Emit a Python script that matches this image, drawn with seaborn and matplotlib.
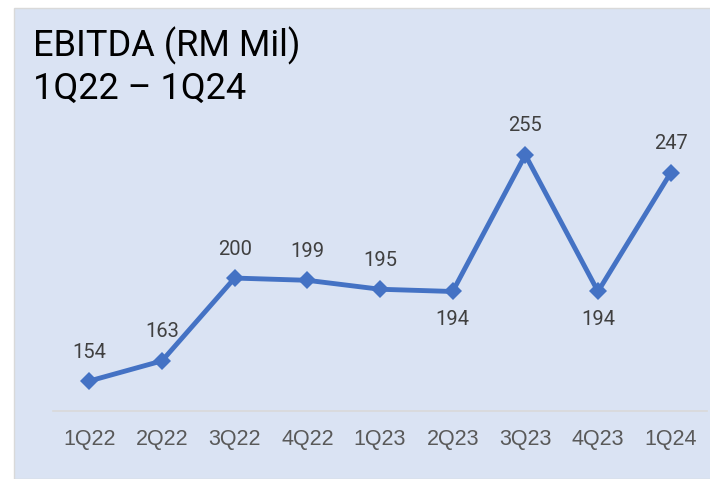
import numpy as np
import pandas as pd
import matplotlib as mpl
import matplotlib.pyplot as plt
import seaborn as sns
from matplotlib.patches import Rectangle

quarters = ["1Q22", "2Q22", "3Q22", "4Q22", "1Q23", "2Q23", "3Q23", "4Q23", "1Q24"]
ebitda = [154, 163, 200, 199, 195, 194, 255, 194, 247]
label_below = ["2Q23", "4Q23"]

sns.set_style("white")
plt.rcParams['font.family'] = ['Roboto', 'DejaVu Sans']

bg = "#DAE3F3"
df = pd.DataFrame({"quarter": quarters, "ebitda": ebitda})

fig = plt.figure(figsize=(7.1, 4.79), dpi=100)
fig.patch.set_facecolor("white")
fig.patches.append(Rectangle((14 / 710, 0), 1, 1 - 8 / 479, transform=fig.transFigure,
                             facecolor=bg, edgecolor="#D9D9D9", linewidth=1, zorder=-10))

ax = fig.add_axes([53 / 710, 68 / 479, 654 / 710, 311 / 479])
ax.set_zorder(5)
ax.patch.set_alpha(0)

sns.lineplot(data=df, x="quarter", y="ebitda", ax=ax, color="#4472C4", linewidth=3.5,
             marker="D", markersize=9, markeredgewidth=0, sort=False)

for i, (q, v) in enumerate(zip(quarters, ebitda)):
    dy = -28 if q in label_below else 29
    ax.annotate(str(v), (i, v), xytext=(0, dy), textcoords="offset pixels",
                ha="center", va="center", fontsize=14.5, color="#404040")

ax.set_xlim(-0.5, len(quarters) - 0.5)
ax.set_ylim(140.6, 140.6 + 311 / 2.238)
ax.set_xlabel("")
ax.set_ylabel("")
ax.set_yticks([])
ax.tick_params(axis="x", length=0, pad=13, labelsize=15.5, labelcolor="#595959")
for lab in ax.get_xticklabels():
    lab.set_fontfamily(["Liberation Sans", "DejaVu Sans"])
for s in ["top", "left", "right"]:
    ax.spines[s].set_visible(False)
ax.spines["bottom"].set_color("#D9D9D9")
ax.spines["bottom"].set_linewidth(1.2)

fig.text(33 / 710, 1 - 46 / 479, "EBITDA (RM Mil)", fontsize=26, color="black",
         va="center", ha="left", zorder=6)
fig.text(33 / 710, 1 - 89 / 479, "1Q22 – 1Q24", fontsize=26, color="black",
         va="center", ha="left", zorder=6)

plt.savefig("out.png", dpi=100)
